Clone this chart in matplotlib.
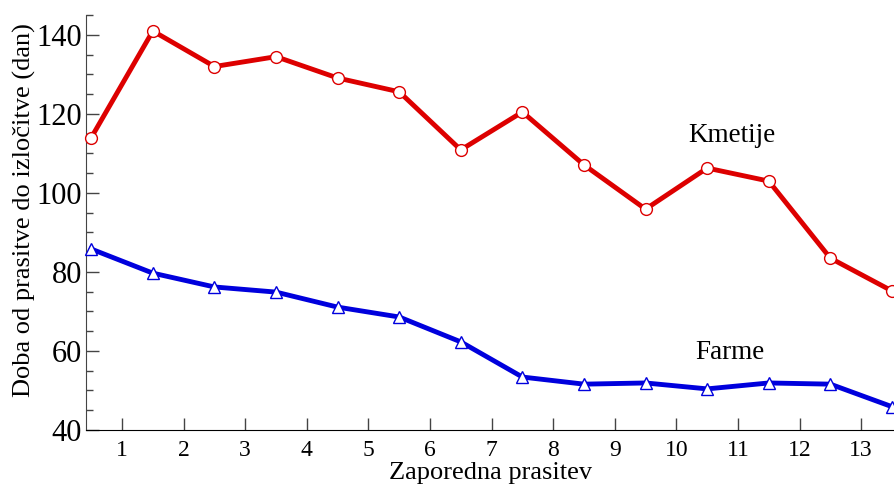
import matplotlib
matplotlib.use("Agg")
import matplotlib.pyplot as plt
from matplotlib.ticker import MultipleLocator

plt.rcParams['font.family'] = ['Liberation Serif', 'DejaVu Serif']

prasitev = [0.5, 1.5, 2.5, 3.5, 4.5, 5.5, 6.5, 7.5, 8.5, 9.5, 10.5, 11.5, 12.5, 13.5]
kmetije = [114.0, 141.0, 132.0, 134.5, 129.1, 125.6, 110.9, 120.5, 107.1, 95.9, 106.3, 103.0, 83.5, 75.2]
farme = [85.8, 79.7, 76.2, 74.9, 71.1, 68.6, 62.3, 53.4, 51.6, 51.9, 50.4, 51.9, 51.6, 45.9]
xticks = list(range(1, 14))
yticks = [40, 60, 80, 100, 120, 140]

fig = plt.figure(figsize=(8.95, 4.88), dpi=100)
ax = fig.add_axes([0.0961, 0.1189, 0.9039, 0.850])

red = '#dd0000'
blue = '#0000dd'
ax.plot(prasitev, kmetije, color=red, lw=3.5, marker='o', ms=8.5,
        mfc='white', mec=red, mew=1.0, clip_on=False, zorder=3)
ax.plot(prasitev, farme, color=blue, lw=3.5, marker='^', ms=9,
        mfc='white', mec=blue, mew=1.0, clip_on=False, zorder=3)

ax.set_xlim(0.415, 13.55)
ax.set_ylim(40, 145)
ax.set_xticks(xticks)
ax.set_yticks(yticks)
ax.yaxis.set_minor_locator(MultipleLocator(5))

for s in ['top', 'right']:
    ax.spines[s].set_visible(False)
ax.spines['left'].set_color('#444444')
ax.spines['bottom'].set_color('black')
ax.tick_params(axis='x', direction='in', length=9, width=1, color='#444444',
               labelsize=17, pad=7)
ax.tick_params(axis='y', which='major', direction='in', length=9, width=1,
               color='#444444', labelsize=22, pad=3)
ax.tick_params(axis='y', which='minor', direction='in', length=5, width=1,
               color='#444444')

ax.set_xlabel('Zaporedna prasitev', fontsize=19, labelpad=1)
ax.set_ylabel('Doba od prasitve do izločitve (dan)', fontsize=19)
ax.yaxis.set_label_coords(-0.062, 0.53)

ax.text(10.90, 114.6, 'Kmetije', fontsize=19.5, ha='center', va='center')
ax.text(10.87, 59.5, 'Farme', fontsize=19.5, ha='center', va='center')

fig.savefig('out.png', dpi=100)
